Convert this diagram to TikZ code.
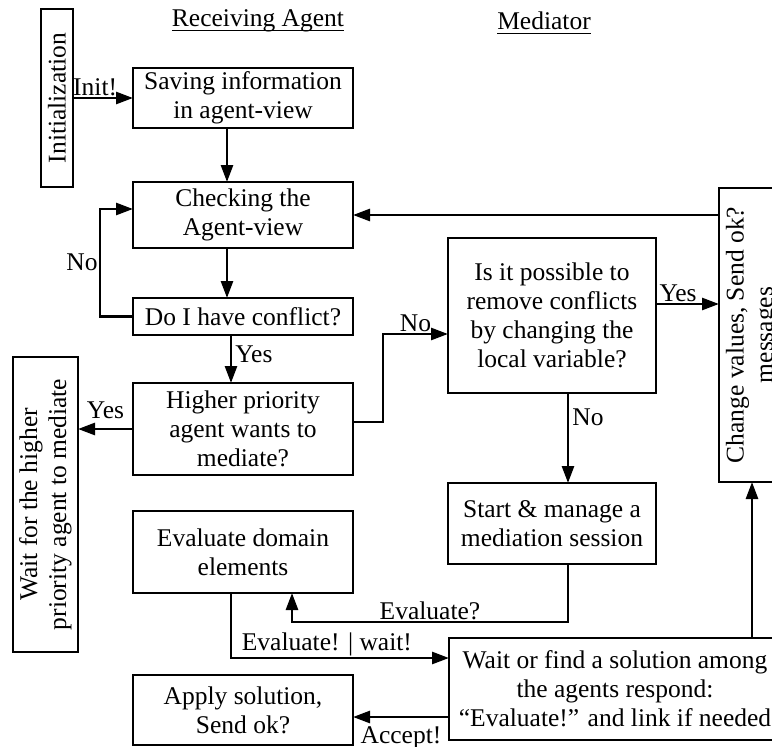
\documentclass[tikz,border=0pt]{standalone}
\usepackage{fontspec}
\setmainfont{Liberation Serif}
\usetikzlibrary{arrows.meta,positioning}

\begin{document}
\begin{tikzpicture}[x=1pt, y=-1pt, font=\fontsize{25.5}{29}\selectfont, box/.style={rectangle, draw, line width=2.7pt, inner sep=0pt, outer sep=0pt, align=center}, vbox/.style={box, rotate=90}, arrow/.style={-{Triangle[length=17pt,width=12pt]}, line width=2.7pt}, head/.style={inner sep=0pt}, node distance=50pt]
        \useasboundingbox (0,0) rectangle (772,747);
        \clip (0,0) rectangle (772,747);
        \node[head] (recv_head) at (258,21) {Receiving Agent};
        \node[head] (med_head) at (544,21) {Mediator};
        \draw[line width=1.2pt] ([yshift=-4pt]recv_head.base west) -- ([yshift=-4pt]recv_head.base east);
        \draw[line width=1.2pt] ([yshift=-4pt]med_head.base west) -- ([yshift=-4pt]med_head.base east);
        \node[vbox, minimum width=178pt, minimum height=32pt] (init) at (57,98) {Initialization};
        \node[box, minimum width=220pt, minimum height=60pt] (saving) at (243,98) {Saving information\\in agent-view};
        \node[box, below=54pt of saving, minimum width=220pt, minimum height=66pt] (check_view) {Checking the\\Agent-view};
        \node[box, below=50pt of check_view, minimum width=220pt, minimum height=37pt] (conflict) {Do I have conflict?};
        \node[box, below=48pt of conflict, minimum width=220pt, minimum height=92pt] (higher_prio) {Higher priority\\agent wants to\\mediate?};
        \node[box, below=36pt of higher_prio, minimum width=220pt, minimum height=82pt] (eval_dom) {Evaluate domain\\elements};
        \node[box, below=82pt of eval_dom, minimum width=220pt, minimum height=70pt] (apply_sol) {Apply solution,\\Send ok?};
        \node[vbox, minimum width=295pt, minimum height=65pt] (wait_higher) at (45.5,504.5) {Wait for the higher\\priority agent to mediate};
        \node[box, minimum width=208pt, minimum height=155pt] (remove_conf) at (552,315.5) {Is it possible to\\remove conflicts\\by changing the\\local variable?};
        \node[box, below=90pt of remove_conf, minimum width=208pt, minimum height=81pt] (start_med) {Start \& manage a\\mediation session};
        \node[vbox, minimum width=294pt, minimum height=66pt] (change_vals) at (752,335) {Change values, Send ok?\\messages};
        \node[box, minimum width=332pt, minimum height=102pt] (wait_sol) at (615,689) {Wait or find a solution among\\the agents respond:\\``Evaluate!'' and link if needed};
        \draw[arrow] (init) -- node[above, pos=0.37, inner sep=1pt] {Init!} (saving);
        \draw[arrow] ([xshift=-16pt]saving.south) -- ([xshift=-16pt]check_view.north);
        \draw[arrow] ([xshift=-16pt]check_view.south) -- ([xshift=-16pt]conflict.north);
        \draw[arrow] (conflict.west) -- ++(-33,0) |- node[pos=0.25, left, inner sep=1pt] {No} ([yshift=6pt]check_view.west);
        \draw[arrow] ([xshift=-12pt]conflict.south) -- node[right, pos=0.4, inner sep=3pt] {Yes} ([xshift=-12pt]higher_prio.north);
        \draw[arrow] (higher_prio.west) -- node[above=9pt, midway, inner sep=0pt] {Yes} (higher_prio.west -| wait_higher.south);
        \draw[arrow] ([yshift=7pt]higher_prio.east) -- ++(30,0) |- node[pos=0.75, above, inner sep=1pt] {No} ([yshift=-18.5pt]remove_conf.west);
        \draw[arrow] ([yshift=11.5pt]remove_conf.east) -- node[above, pos=0.35, inner sep=1pt] {Yes} ([yshift=11.5pt]remove_conf.east -| change_vals.north);
        \draw[arrow] (change_vals.north |- check_view.east) -- (check_view.east);
        \draw[arrow] ([xshift=16pt]remove_conf.south) -- node[right, pos=0.27, inner sep=3pt] {No} ([xshift=16pt]start_med.north);
        \draw[arrow] ([xshift=16pt]start_med.south) -- ++(0,58) -| node[pos=0.25, above, inner sep=1pt] {Evaluate?} ([xshift=49pt]eval_dom.south);
        \draw[arrow] ([xshift=-12pt]eval_dom.south) |- node[pos=0.72, above, inner sep=1pt] {Evaluate! | wait!} ([yshift=31pt]wait_sol.west);
        \draw[arrow] (wait_sol.north -| change_vals.west) -- (change_vals.west);
        \draw[arrow] ([yshift=-28pt]wait_sol.west) -- node[below=8pt, midway, inner sep=0pt] {Accept!} ([yshift=-28pt]wait_sol.west -| apply_sol.east);
      \end{tikzpicture}
\end{document}
